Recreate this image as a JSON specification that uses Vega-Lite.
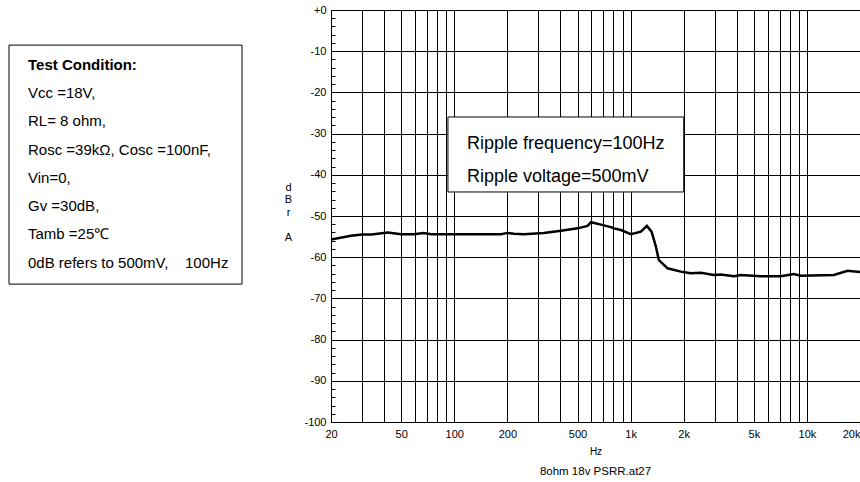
{
  "$schema": "https://vega.github.io/schema/vega-lite/v6.json",
  "padding": {"left": 8, "top": 3, "right": 0, "bottom": 0},
  "background": "white",
  "spacing": 89,
  "bounds": "flush",
  "config": {"font": "Liberation Sans", "view": {"stroke": "#000", "strokeWidth": 1}},
  "hconcat": [
    {
      "width": 233,
      "height": 412,
      "view": {"stroke": null},
      "data": {"values": [
        {"line": 0, "text": "Test Condition:"},
        {"line": 1, "text": "Vcc =18V,"},
        {"line": 2, "text": "RL= 8 ohm,"},
        {"line": 3, "text": "Rosc =39kΩ, Cosc =100nF,"},
        {"line": 4, "text": "Vin=0,"},
        {"line": 5, "text": "Gv =30dB,"},
        {"line": 6, "text": "Tamb =25℃"},
        {"line": 7, "text": "0dB refers to 500mV, \u00a0\u00a0\u00a0100Hz"}
      ]},
      "layer": [
        {
          "data": {"values": [{"item": "frame"}]},
          "mark": {"type": "rect", "fill": "white", "stroke": "#000", "strokeWidth": 1},
          "encoding": {
            "x": {"datum": 0, "type": "quantitative", "scale": {"domain": [0, 1], "nice": false, "zero": false}, "axis": null},
            "x2": {"datum": 1},
            "y": {"datum": -0.689, "type": "quantitative", "scale": {"domain": [-1.93, 12.628], "reverse": true, "nice": false, "zero": false}, "axis": null},
            "y2": {"datum": 7.756}
          }
        },
        {
          "transform": [{"filter": "datum.line === 0"}],
          "mark": {"type": "text", "align": "left", "baseline": "middle", "dx": 19, "fontSize": 15, "fontWeight": "bold", "color": "#000"},
          "encoding": {
            "x": {"datum": 0, "type": "quantitative"},
            "y": {"field": "line", "type": "quantitative"},
            "text": {"field": "text", "type": "nominal"}
          }
        },
        {
          "transform": [{"filter": "datum.line > 0"}],
          "mark": {"type": "text", "align": "left", "baseline": "middle", "dx": 19, "fontSize": 15, "color": "#000"},
          "encoding": {
            "x": {"datum": 0, "type": "quantitative"},
            "y": {"field": "line", "type": "quantitative"},
            "text": {"field": "text", "type": "nominal"}
          }
        }
      ]
    },
    {
      "width": 529,
      "height": 412,
      "title": {"text": "8ohm 18v PSRR.at27", "orient": "bottom", "anchor": "middle", "fontSize": 11.5, "fontWeight": "normal", "offset": 10, "color": "#000"},
      "layer": [
        {
          "data": {"values": [
            {"freq": 20, "db": -55.7},
            {"freq": 26, "db": -54.8},
            {"freq": 30, "db": -54.5},
            {"freq": 34, "db": -54.5},
            {"freq": 42, "db": -54.0},
            {"freq": 50, "db": -54.4},
            {"freq": 59, "db": -54.4},
            {"freq": 67, "db": -54.1},
            {"freq": 74, "db": -54.4},
            {"freq": 184, "db": -54.4},
            {"freq": 201, "db": -54.1},
            {"freq": 218, "db": -54.3},
            {"freq": 248, "db": -54.4},
            {"freq": 322, "db": -54.1},
            {"freq": 403, "db": -53.6},
            {"freq": 501, "db": -53.0},
            {"freq": 570, "db": -52.4},
            {"freq": 596, "db": -51.5},
            {"freq": 679, "db": -52.1},
            {"freq": 773, "db": -52.7},
            {"freq": 804, "db": -53.0},
            {"freq": 881, "db": -53.4},
            {"freq": 1004, "db": -54.4},
            {"freq": 1144, "db": -53.8},
            {"freq": 1237, "db": -52.4},
            {"freq": 1315, "db": -53.8},
            {"freq": 1391, "db": -57.4},
            {"freq": 1447, "db": -60.7},
            {"freq": 1621, "db": -62.7},
            {"freq": 1928, "db": -63.5},
            {"freq": 2196, "db": -63.9},
            {"freq": 2503, "db": -63.8},
            {"freq": 2966, "db": -64.3},
            {"freq": 3250, "db": -64.2},
            {"freq": 3852, "db": -64.6},
            {"freq": 4221, "db": -64.3},
            {"freq": 5478, "db": -64.6},
            {"freq": 7112, "db": -64.6},
            {"freq": 8426, "db": -64.1},
            {"freq": 9234, "db": -64.5},
            {"freq": 14210, "db": -64.3},
            {"freq": 16984, "db": -63.3},
            {"freq": 20000, "db": -63.6}
          ]},
          "mark": {"type": "line", "color": "#000", "strokeWidth": 2.5},
          "encoding": {
            "x": {
              "field": "freq", "type": "quantitative",
              "scale": {"type": "log", "domain": [20, 20000], "nice": false},
              "axis": {
                "values": [20, 30, 40, 50, 60, 70, 80, 90, 100, 200, 300, 400, 500, 600, 700, 800, 900, 1000, 2000, 3000, 4000, 5000, 6000, 7000, 8000, 9000, 10000, 20000],
                "tickCount": 100,
                "grid": true, "gridColor": "#000", "gridWidth": 1, "gridOpacity": 1,
                "ticks": false, "domain": false,
                "labelExpr": "indexof([20,50,100,200,500,1000,2000,5000,10000,20000], datum.value) >= 0 ? (datum.value >= 1000 ? (datum.value/1000) + 'k' : '' + datum.value) : ''",
                "labelAlign": {"condition": {"test": "datum.value >= 20000", "value": "right"}, "value": "center"},
                "labelOverlap": false, "labelBound": false, "labelFlush": false,
                "labelPadding": 6, "labelFontSize": 11, "labelColor": "#000",
                "title": "Hz", "titleFontSize": 10, "titleFontWeight": "normal", "titleColor": "#000", "titlePadding": 7
              }
            },
            "y": {
              "field": "db", "type": "quantitative",
              "scale": {"domain": [-100, 0], "nice": false, "zero": false},
              "axis": {
                "values": [-100, -98, -96, -94, -92, -90, -88, -86, -84, -82, -80, -78, -76, -74, -72, -70, -68, -66, -64, -62, -60, -58, -56, -54, -52, -50, -48, -46, -44, -42, -40, -38, -36, -34, -32, -30, -28, -26, -24, -22, -20, -18, -16, -14, -12, -10, -8, -6, -4, -2, 0],
                "tickCount": 100,
                "grid": true, "gridColor": "#000", "gridWidth": 1,
                "gridOpacity": {"condition": {"test": "datum.value % 10 !== 0", "value": 0}, "value": 1},
                "ticks": true, "tickSize": -4, "tickColor": "#000", "tickWidth": 1,
                "domain": false,
                "labelExpr": "datum.value % 10 === 0 ? (datum.value === 0 ? '+0' : '' + datum.value) : ''",
                "labelOverlap": false, "labelBound": false, "labelFlush": false,
                "labelPadding": 9, "labelFontSize": 11, "labelColor": "#000",
                "title": ["d", "B", "r", "\u2800", "A"],
                "titleAngle": 0, "titleX": -43, "titleY": 177,
                "titleAlign": "center", "titleBaseline": "middle", "titleLineHeight": 12.5,
                "titleFontSize": 11, "titleFontWeight": "normal", "titleColor": "#000"
              }
            }
          }
        },
        {
          "data": {"values": [{"note": "ripple"}]},
          "mark": {"type": "rect", "fill": "white", "stroke": "#000", "strokeWidth": 1},
          "encoding": {
            "x": {"datum": 92.1, "type": "quantitative"},
            "x2": {"datum": 2002},
            "y": {"datum": -25.97, "type": "quantitative"},
            "y2": {"datum": -44.17}
          }
        },
        {
          "data": {"values": [{"note": "ripple"}]},
          "mark": {"type": "text", "align": "left", "baseline": "middle", "fontSize": 18, "lineHeight": 33, "color": "#000",
                   "text": ["Ripple frequency=100Hz", "Ripple voltage=500mV"]},
          "encoding": {
            "x": {"datum": 118, "type": "quantitative"},
            "y": {"datum": -32.5, "type": "quantitative"}
          }
        }
      ]
    }
  ]
}
